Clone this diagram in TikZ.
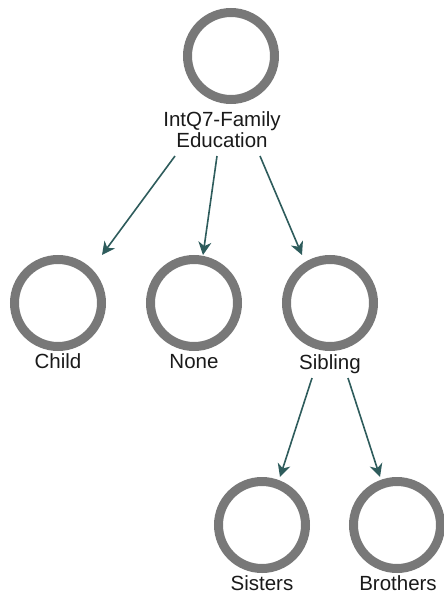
\documentclass[tikz,border=0pt]{standalone}
\usepackage{fontspec}
\setmainfont{Liberation Sans}
\usetikzlibrary{arrows.meta}
\definecolor{ringgray}{HTML}{787878}
\definecolor{linkteal}{HTML}{2E5C5C}
\definecolor{labelink}{HTML}{1A1A1A}
\begin{document}
\begin{tikzpicture}[x=1pt,y=-1pt,
  ring/.style={circle,draw=ringgray,line width=9pt,minimum size=87pt,inner sep=0pt,fill=white},
  lbl/.style={anchor=south,inner xsep=2pt,inner ysep=8pt,text depth=0pt,text=labelink,
    font=\fontsize{20.5}{21.5}\selectfont,align=center},
  link/.style={draw=linkteal,line width=1.6pt,-{Stealth[length=13pt,width=13pt,inset=4pt]}}]
  \useasboundingbox (0,0) rectangle (444,597);

  % category rings
  \node[ring] (root)     at (231,56)  {};
  \node[ring] (child)    at (58,303)  {};
  \node[ring] (none)     at (194,303) {};
  \node[ring] (sibling)  at (330,303) {};
  \node[ring] (sisters)  at (262,525) {};
  \node[ring] (brothers) at (397,525) {};

  % captions under the rings
  \node[lbl] (rootlbl)     at (222,156) {IntQ7-Family\\Education};
  \node[lbl] (childlbl)    at (58,377)  {Child};
  \node[lbl] (nonelbl)     at (194,377) {None};
  \node[lbl] (siblinglbl)  at (330,378) {Sibling};
  \node[lbl] (sisterslbl)  at (262,599) {Sisters};
  \node[lbl] (brotherslbl) at (398,599) {Brothers};

  % hierarchy links
  \draw[link] ([xshift=-47pt]rootlbl.south) -- ([xshift=44pt]child.north);
  \draw[link] ([xshift=-5pt]rootlbl.south)  -- ([xshift=9pt]none.north);
  \draw[link] ([xshift=38pt]rootlbl.south)  -- ([xshift=-28pt]sibling.north);
  \draw[link] ([xshift=-18pt]siblinglbl.south) -- ([xshift=18pt]sisters.north);
  \draw[link] ([xshift=18pt]siblinglbl.south)  -- ([xshift=-17pt]brothers.north);
\end{tikzpicture}
\end{document}
